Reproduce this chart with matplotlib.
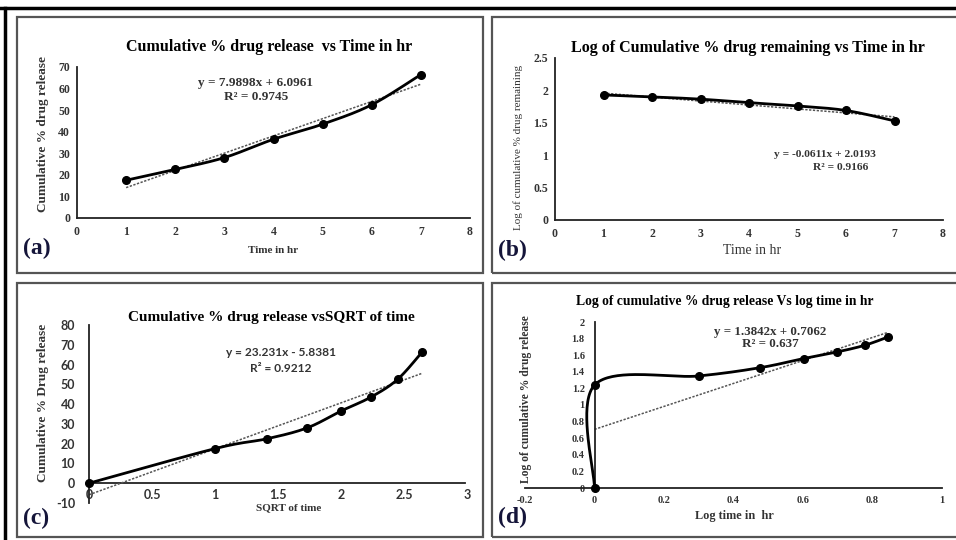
import numpy as np
import matplotlib
matplotlib.use("Agg")
import matplotlib.pyplot as plt
from matplotlib.patches import Rectangle
from matplotlib.lines import Line2D

plt.rcParams["axes.unicode_minus"] = False

# data
time_hr = [1, 2, 3, 4, 5, 6, 7]
cum_release = [17.5, 22.5, 28.0, 36.5, 43.5, 52.5, 66.5]
log_remaining = [1.93, 1.90, 1.865, 1.81, 1.76, 1.69, 1.53]
sqrt_time = [0, 1.0, 1.414, 1.732, 2.0, 2.236, 2.449, 2.646]
cum_release_c = [0, 17.5, 22.5, 28.0, 36.5, 43.5, 52.5, 66.5]
log_time = [0, 0, 0.301, 0.477, 0.602, 0.699, 0.778, 0.845]
log_release = [0, 1.24, 1.35, 1.45, 1.56, 1.64, 1.72, 1.82]

fit_a = (7.9898, 6.0961)
fit_b = (-0.0611, 2.0193)
fit_c = (23.231, -5.8381)
fit_d = (1.3842, 0.7062)

W, H = 956, 540
SERIF = "Liberation Serif"
SANS = "Lato"


def frac(x0, y0, x1, y1):
    # pixel box (top-left origin) -> figure fraction [l, b, w, h]
    return [x0 / W, (H - y1) / H, (x1 - x0) / W, (y1 - y0) / H]


def excel_smooth(ax, x, y, n=40):
    # bezier smoothing like a spreadsheet "smoothed line", done in screen space
    pts = ax.transData.transform(np.column_stack([x, y]))
    out = [pts[0]]
    for i in range(len(pts) - 1):
        p0 = pts[i - 1] if i > 0 else pts[i]
        p1 = pts[i]
        p2 = pts[i + 1]
        p3 = pts[i + 2] if i + 2 < len(pts) else pts[i + 1]
        c1 = p1 + (p2 - p0) / 6
        c2 = p2 - (p3 - p1) / 6
        t = np.linspace(0, 1, n)[1:, None]
        seg = (1 - t) ** 3 * p1 + 3 * (1 - t) ** 2 * t * c1 + 3 * (1 - t) * t ** 2 * c2 + t ** 3 * p2
        out.extend(seg)
    out = ax.transData.inverted().transform(np.array(out))
    return out[:, 0], out[:, 1]


def style(ax, tick_font, tick_size, tick_weight="bold"):
    for s in ["top", "right"]:
        ax.spines[s].set_visible(False)
    for s in ["left", "bottom"]:
        ax.spines[s].set_color("#222222")
        ax.spines[s].set_linewidth(1.3)
    ax.tick_params(length=0, labelsize=tick_size, colors="#333333")
    for lab in ax.get_xticklabels() + ax.get_yticklabels():
        lab.set_family(tick_font)
        lab.set_fontweight(tick_weight)


def draw_series(ax, x, y, fit, x0, x1):
    xs, ys = excel_smooth(ax, x, y)
    ax.plot(xs, ys, color="black", lw=2, zorder=3, clip_on=False)
    ax.plot(x, y, "o", color="black", ms=5.5, zorder=4, clip_on=False)
    tx = np.array([x0, x1])
    ax.plot(tx, fit[0] * tx + fit[1], color="#555555", lw=1.1, ls=(0, (1.5, 1)), zorder=2, clip_on=False)


fig = plt.figure(figsize=(W / 100, H / 100), dpi=100)

# (a)
ax = fig.add_axes(frac(77, 67, 470, 218))
ax.set_xlim(0, 8)
ax.set_ylim(0, 70)
ax.set_xticks(range(0, 9))
ax.set_yticks(range(0, 71, 10))
style(ax, SERIF, 8.5)
ax.tick_params(axis="x", pad=6)
ax.tick_params(axis="y", pad=5)
draw_series(ax, time_hr, cum_release, fit_a, 1, 7)
fig.text(269 / W, 1 - 47 / H, "Cumulative % drug release  vs Time in hr", family=SERIF,
         weight="bold", size=11.5, ha="center", va="center")
fig.text(256 / W, 1 - 83 / H, "y = 7.9898x + 6.0961", family=SERIF, weight="bold", size=9.5,
         ha="center", va="center", color="#333333")
fig.text(256 / W, 1 - 97 / H, "R² = 0.9745", family=SERIF, weight="bold", size=9.5,
         ha="center", va="center", color="#333333")
fig.text(273 / W, 1 - 250 / H, "Time in hr", family=SERIF, weight="bold", size=8,
         ha="center", va="center", color="#333333")
fig.text(43 / W, 1 - 134 / H, "Cumulative % drug release", family=SERIF, weight="bold", size=9.5,
         ha="center", va="center", rotation=90, color="#333333")

# (b)
ax = fig.add_axes(frac(555, 58, 943, 220))
ax.set_xlim(0, 8)
ax.set_ylim(0, 2.5)
ax.set_xticks(range(0, 9))
ax.set_yticks([0, 0.5, 1, 1.5, 2, 2.5])
ax.set_yticklabels(["0", "0.5", "1", "1.5", "2", "2.5"])
style(ax, SERIF, 8.5)
ax.tick_params(axis="x", pad=6)
ax.tick_params(axis="y", pad=5)
draw_series(ax, time_hr, log_remaining, fit_b, 1, 7)
fig.text(748 / W, 1 - 48 / H, "Log of Cumulative % drug remaining vs Time in hr", family=SERIF,
         weight="bold", size=11.5, ha="center", va="center")
fig.text(825 / W, 1 - 155 / H, "y = -0.0611x + 2.0193", family=SERIF, weight="bold", size=8.2,
         ha="center", va="center", color="#333333")
fig.text(841 / W, 1 - 168 / H, "R² = 0.9166", family=SERIF, weight="bold", size=8.2,
         ha="center", va="center", color="#333333")
fig.text(752 / W, 1 - 250 / H, "Time in hr", family=SERIF, size=10,
         ha="center", va="center", color="#333333")
fig.text(518 / W, 1 - 147 / H, "Log of cumulative % drug remaining", family=SERIF, size=8,
         ha="center", va="center", rotation=90, color="#333333")

# (c)
ax = fig.add_axes(frac(89, 325, 467, 503))
ax.set_xlim(0, 3)
ax.set_ylim(-10, 80)
ax.set_xticks([0, 0.5, 1, 1.5, 2, 2.5, 3])
ax.set_xticklabels(["0", "0.5", "1", "1.5", "2", "2.5", "3"])
ax.set_yticks(range(-10, 81, 10))
style(ax, SANS, 9)
ax.spines["bottom"].set_visible(False)
ax.tick_params(axis="x", pad=-10)
ax.tick_params(axis="y", pad=10)
ax.axhline(0, color="#222222", lw=1.3, zorder=1, xmax=0.995)
draw_series(ax, sqrt_time, cum_release_c, fit_c, 0, 2.646)
fig.text(271 / W, 1 - 317 / H, "Cumulative % drug release vsSQRT of time", family=SERIF,
         weight="bold", size=11, ha="center", va="center")
fig.text(281 / W, 1 - 352 / H, "y = 23.231x - 5.8381", family=SANS, weight="bold", size=8.6,
         ha="center", va="center", color="#333333")
fig.text(281 / W, 1 - 368 / H, "R² = 0.9212", family=SANS, weight="bold", size=8.6,
         ha="center", va="center", color="#333333")
fig.text(289 / W, 1 - 508 / H, "SQRT of time", family=SERIF, weight="bold", size=8,
         ha="center", va="center", color="#333333")
fig.text(43 / W, 1 - 403 / H, "Cumulative % Drug release", family=SERIF, weight="bold", size=9.5,
         ha="center", va="center", rotation=90, color="#333333")

# (d)
ax = fig.add_axes(frac(525, 322, 942, 488))
ax.set_xlim(-0.2, 1)
ax.set_ylim(0, 2)
ax.set_xticks([-0.2, 0, 0.2, 0.4, 0.6, 0.8, 1])
ax.set_xticklabels(["-0.2", "0", "0.2", "0.4", "0.6", "0.8", "1"])
ax.set_yticks([0, 0.2, 0.4, 0.6, 0.8, 1, 1.2, 1.4, 1.6, 1.8, 2])
ax.set_yticklabels(["0", "0.2", "0.4", "0.6", "0.8", "1", "1.2", "1.4", "1.6", "1.8", "2"])
ax.spines["left"].set_position(("data", 0))
style(ax, SERIF, 7.5)
ax.tick_params(axis="x", pad=6)
ax.tick_params(axis="y", pad=7)
draw_series(ax, log_time, log_release, fit_d, 0, 0.845)
fig.text(725 / W, 1 - 302 / H, "Log of cumulative % drug release Vs log time in hr", family=SERIF,
         weight="bold", size=9.8, ha="center", va="center")
fig.text(770 / W, 1 - 332 / H, "y = 1.3842x + 0.7062", family=SERIF, weight="bold", size=9.4,
         ha="center", va="center", color="#333333")
fig.text(770 / W, 1 - 344 / H, "R² = 0.637", family=SERIF, weight="bold", size=9.4,
         ha="center", va="center", color="#333333")
fig.text(734 / W, 1 - 516 / H, "Log time in  hr", family=SERIF, weight="bold", size=8.8,
         ha="center", va="center", color="#333333")
fig.text(526 / W, 1 - 399 / H, "Log of cumulative % drug release", family=SERIF, weight="bold",
         size=8.4, ha="center", va="center", rotation=90, color="#333333")

# panel frames and letters
for (x0, y0, x1, y1), letter, lx, ly in [((17, 17, 483, 273), "(a)", 23, 248),
                                         ((492, 17, 958, 273), "(b)", 498, 250),
                                         ((17, 283, 483, 537), "(c)", 23, 518),
                                         ((492, 283, 958, 537), "(d)", 498, 517)]:
    fig.patches.append(Rectangle((x0 / W, 1 - y1 / H), (x1 - x0) / W, (y1 - y0) / H,
                                 transform=fig.transFigure, fill=False,
                                 edgecolor="#555555", lw=1.6))
    fig.text(lx / W, 1 - ly / H, letter, family=SERIF, weight="bold", size=17,
             ha="left", va="center", color="#15153a")

# outer black border (top and left)
fig.lines.append(Line2D([0, 1], [1 - 8 / H, 1 - 8 / H], transform=fig.transFigure,
                        color="black", lw=2.5))
fig.lines.append(Line2D([5 / W, 5 / W], [0, 1 - 8 / H], transform=fig.transFigure,
                        color="black", lw=2.5))

fig.savefig("out.png", dpi=100)
